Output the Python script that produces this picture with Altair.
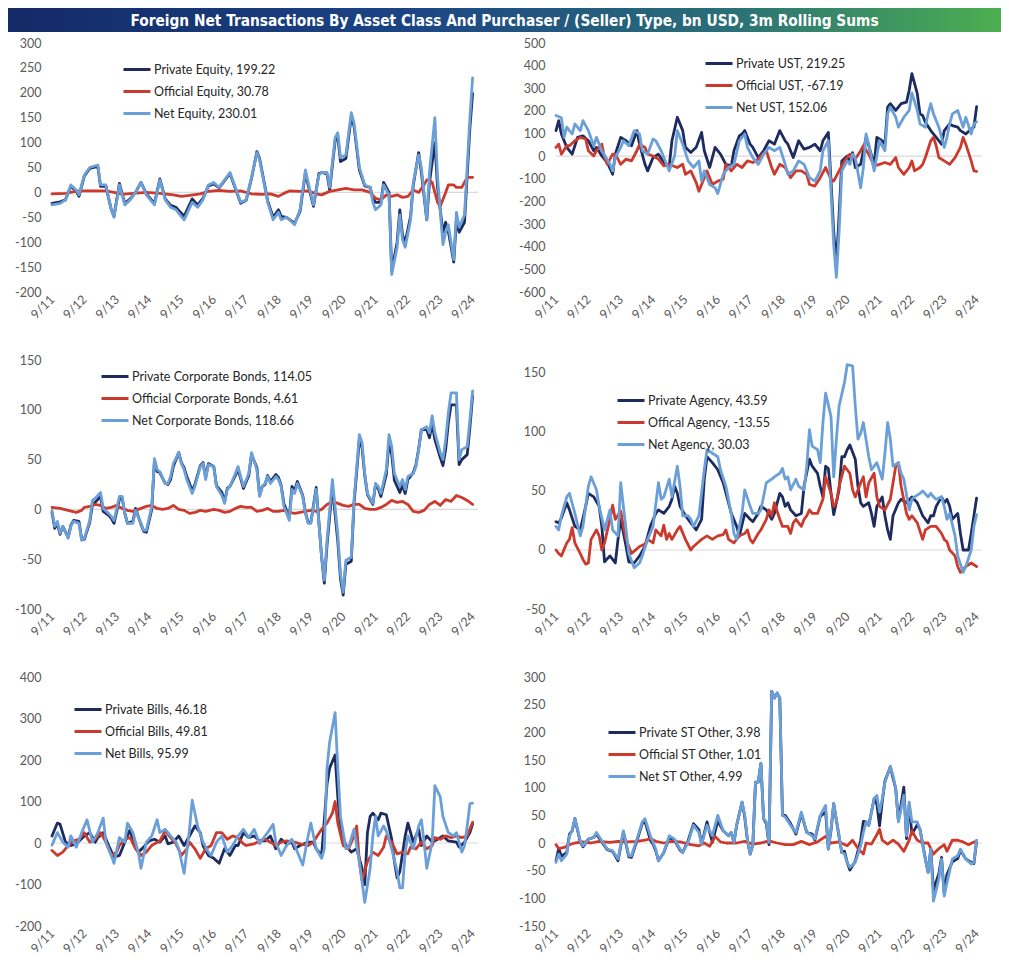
import altair as alt
import pandas as pd

TITLE = "Foreign Net Transactions By Asset Class And Purchaser / (Seller) Type, bn USD, 3m Rolling Sums"
TICK_LABELS = ["9/11", "9/12", "9/13", "9/14", "9/15", "9/16", "9/17",
               "9/18", "9/19", "9/20", "9/21", "9/22", "9/23", "9/24"]

# ---------------- Equity (month index from 9/11, value bn USD) ----------------
EQ_NAMES = ["Private Equity, 199.22", "Official Equity, 30.78", "Net Equity, 230.01"]
EQ_PRIVATE = [(0,-22),(3,-19),(5,-15),(7,13),(9,2),(10,-8),(12,33),(14,48),(17,52),(18,12),(20,12),(22,-35),(23,-48),(25,18),(27,-22),(29,-13),(31,0),(33,20),(35,-3),(38,-22),(40,27),(42,-13),(44,-26),(46,-30),(49,-48),(52,-13),(54,-25),(56,-12),(58,13),(60,17),(62,9),(66,38),(68,8),(70,-22),(72,-16),(74,28),(76,82),(77,68),(80,-17),(82,-50),(84,-35),(85,-48),(87,-50),(90,-62),(92,-38),(94,40),(95,15),(97,-28),(99,38),(100,40),(102,37),(103,5),(105,103),(106,112),(107,62),(109,68),(111,152),(112,133),(114,45),(116,13),(118,10),(119,-12),(120,-20),(122,-20),(123,20),(125,0),(126,-158),(128,-100),(129,-35),(130,-85),(131,-100),(133,-48),(134,15),(136,80),(137,40),(139,-55),(140,20),(142,100),(143,10),(145,-80),(146,-60),(147,-78),(149,-140),(150,-55),(151,-80),(153,-60),(155,130),(156,199)]
EQ_OFFICIAL = [(0,-3),(5,-2),(10,3),(15,3),(20,3),(23,0),(26,-4),(30,-2),(35,0),(40,-2),(45,-5),(48,-8),(51,-6),(55,-3),(58,2),(62,4),(66,2),(70,3),(74,-3),(78,-4),(81,-3),(84,-8),(86,-2),(88,3),(92,2),(95,3),(98,-3),(100,-5),(103,2),(106,5),(109,8),(112,5),(115,5),(118,0),(120,-12),(122,-15),(124,-5),(126,-8),(128,-5),(130,-10),(132,-8),(134,5),(136,0),(138,15),(139,25),(140,25),(141,20),(143,-20),(144,-28),(146,0),(147,15),(149,15),(150,10),(152,10),(153,20),(154,30),(156,30)]
EQ_NET = [(0,-25),(3,-22),(5,-15),(7,15),(9,5),(10,-5),(12,35),(14,50),(17,55),(18,15),(20,15),(22,-35),(23,-50),(25,15),(27,-25),(29,-15),(31,0),(33,20),(35,-5),(38,-25),(40,25),(42,-15),(44,-30),(46,-35),(49,-55),(52,-20),(54,-30),(56,-15),(58,15),(60,20),(62,10),(66,40),(68,10),(70,-20),(72,-15),(74,30),(76,80),(77,65),(80,-20),(82,-55),(84,-40),(85,-55),(87,-50),(90,-65),(92,-35),(94,45),(95,20),(97,-25),(99,35),(100,40),(102,40),(103,10),(105,110),(106,120),(107,70),(109,75),(111,160),(112,140),(114,50),(116,15),(118,10),(119,-20),(120,-35),(122,-25),(123,15),(125,-5),(126,-165),(128,-110),(129,-45),(130,-95),(131,-110),(133,-55),(134,20),(136,75),(137,50),(139,-55),(140,40),(142,150),(143,30),(145,-105),(146,-80),(147,-65),(149,-135),(150,-40),(151,-70),(153,-45),(155,150),(156,230)]

# ---------------- UST ----------------
UST_NAMES = ["Private UST, 219.25", "Official UST, -67.19", "Net UST, 152.06"]
UST_PRIVATE = [(0,113),(1,157),(2,98),(4,39),(6,9),(8,83),(10,90),(12,68),(14,24),(15,39),(17,1),(19,-28),(21,-80),(22,9),(24,83),(26,68),(28,46),(30,113),(31,53),(33,-36),(34,-65),(36,-6),(38,9),(40,-28),(42,-43),(43,68),(45,172),(47,113),(48,39),(50,16),(52,39),(54,105),(55,24),(57,-50),(59,39),(61,9),(63,-36),(65,-43),(66,24),(68,90),(69,98),(70,113),(72,53),(73,39),(75,-6),(77,24),(79,68),(81,53),(83,113),(85,68),(86,53),(88,-6),(90,68),(92,31),(94,39),(96,53),(98,24),(99,68),(101,105),(102,-110),(103,-333),(104,-481),(105,-259),(106,-21),(108,1),(109,-28),(110,16),(111,-50),(113,-36),(114,24),(115,83),(116,46),(118,-36),(119,83),(121,68),(122,53),(123,217),(124,232),(126,202),(127,217),(128,232),(130,239),(131,291),(132,365),(134,276),(135,187),(136,180),(137,150),(139,113),(141,83),(143,53),(144,113),(146,143),(147,135),(149,128),(150,113),(152,98),(154,120),(155,128),(156,219)]
UST_OFFICIAL = [(0,39),(1,53),(2,9),(4,46),(5,46),(7,68),(9,83),(11,76),(12,24),(14,1),(15,24),(17,53),(18,-6),(19,-36),(21,9),(22,9),(24,-36),(26,-13),(28,-21),(30,24),(31,53),(33,39),(34,9),(36,1),(38,-13),(40,-43),(42,-36),(45,-50),(47,-36),(48,-80),(50,-65),(52,-117),(53,-155),(55,-95),(56,-65),(58,-125),(60,-110),(62,-102),(63,-36),(65,-65),(67,-36),(69,-50),(71,-21),(73,-28),(75,-13),(76,1),(78,24),(80,-50),(81,-80),(83,-36),(85,-50),(87,-95),(89,-65),(91,-65),(93,-80),(94,-125),(96,-132),(98,-95),(100,-50),(102,-102),(103,-110),(105,-65),(107,-21),(109,9),(111,-13),(113,24),(114,46),(116,9),(118,-43),(120,-36),(122,-28),(124,-36),(126,-6),(127,-50),(129,-80),(131,-50),(132,-21),(133,-65),(135,-50),(136,-36),(137,-6),(139,68),(140,83),(141,46),(142,-6),(144,-21),(146,-36),(148,-6),(150,39),(151,83),(152,53),(154,-21),(155,-65),(156,-67)]
UST_NET = [(0,180),(2,170),(3,83),(4,128),(6,98),(7,143),(9,113),(10,157),(12,113),(14,46),(15,83),(17,24),(20,-36),(21,-65),(22,-6),(24,39),(25,68),(27,46),(29,113),(31,98),(32,24),(34,9),(36,76),(37,68),(39,24),(41,-36),(42,-65),(44,1),(45,113),(47,53),(49,-21),(51,-50),(53,-21),(54,-110),(55,-65),(57,-125),(59,-140),(60,-165),(62,-80),(64,-50),(66,-36),(68,68),(70,98),(71,39),(73,-6),(75,-36),(77,9),(79,39),(81,24),(83,39),(85,-36),(86,-80),(88,-65),(90,-21),(92,-36),(94,-95),(96,-110),(98,-65),(99,24),(101,68),(102,-155),(103,-392),(104,-535),(105,-333),(106,-65),(108,-21),(109,-36),(110,9),(111,-6),(113,-140),(114,-50),(115,98),(116,53),(118,-65),(120,68),(122,24),(123,187),(124,217),(126,172),(127,128),(129,172),(131,202),(132,280),(134,202),(135,143),(137,128),(138,187),(139,232),(140,187),(142,128),(144,39),(145,83),(146,143),(147,187),(149,202),(151,128),(152,172),(154,98),(155,143),(156,152)]

# ---------------- Corporate bonds ----------------
CB_NAMES = ["Private Corporate Bonds, 114.05", "Official Corporate Bonds, 4.61", "Net Corporate Bonds, 118.66"]
CB_PRIVATE = [(0,-3),(1,-19),(2,-14),(3,-25),(4,-17),(6,-28),(7,-16),(8,-11),(10,-12),(11,-30),(12,-30),(14,-13),(15,5),(16,7),(18,13),(19,-2),(21,-6),(22,-9),(23,-14),(25,10),(26,12),(27,-4),(28,-14),(30,-12),(31,1),(33,-15),(34,-22),(35,-23),(37,0),(38,49),(39,38),(40,37),(42,26),(43,25),(44,30),(45,43),(47,57),(48,47),(49,42),(50,33),(52,19),(53,25),(55,44),(56,47),(57,32),(58,46),(60,43),(61,24),(63,17),(64,8),(65,21),(66,23),(68,34),(69,40),(70,31),(71,21),(73,34),(74,55),(76,42),(77,14),(78,23),(79,25),(80,34),(81,28),(83,35),(84,32),(85,24),(86,6),(88,-8),(89,23),(90,19),(91,28),(93,14),(94,-3),(95,-13),(96,-13),(98,22),(99,-13),(100,-48),(101,-74),(102,-36),(104,22),(106,-32),(107,-70),(108,-86),(109,-55),(111,-52),(112,5),(114,70),(115,62),(116,34),(117,15),(119,5),(120,25),(121,21),(122,13),(124,35),(125,68),(126,55),(127,29),(129,17),(130,24),(131,16),(132,30),(134,37),(135,45),(136,61),(137,80),(139,80),(140,72),(141,86),(142,70),(144,52),(145,44),(146,60),(147,87),(148,105),(150,105),(151,45),(152,50),(154,55),(155,82),(156,114)]
CB_OFFICIAL = [(0,2),(3,1),(6,-1),(9,-3),(11,-1),(12,2),(14,3),(16,5),(18,4),(20,1),(22,2),(24,4),(26,1),(28,-1),(30,-2),(33,1),(35,3),(37,4),(39,1),(41,0),(43,1),(45,4),(47,0),(49,-1),(51,-4),(53,-3),(55,-1),(57,-2),(60,0),(62,-1),(64,-3),(66,-2),(68,1),(70,3),(72,2),(74,2),(76,-2),(78,-1),(80,1),(82,-2),(84,-2),(86,-1),(88,-3),(90,-4),(92,-3),(94,-2),(96,-1),(98,-2),(100,0),(102,5),(104,8),(106,6),(108,4),(110,3),(112,5),(114,5),(116,1),(118,0),(120,0),(122,2),(124,5),(126,9),(128,7),(130,8),(132,5),(134,-2),(136,-3),(138,-1),(140,5),(142,8),(144,4),(146,10),(148,8),(150,14),(152,12),(154,9),(156,5)]
CB_NET = [(0,-1),(1,-17),(2,-12),(3,-24),(4,-17),(6,-29),(7,-17),(8,-12),(10,-14),(11,-31),(12,-29),(14,-11),(15,9),(16,11),(18,17),(19,1),(21,-4),(22,-7),(23,-11),(25,13),(26,13),(27,-4),(28,-14),(30,-14),(31,-1),(33,-14),(34,-21),(35,-21),(37,3),(38,51),(39,40),(40,38),(42,26),(43,26),(44,33),(45,46),(47,57),(48,46),(49,40),(50,30),(52,16),(53,23),(55,43),(56,46),(57,30),(58,45),(60,43),(61,23),(63,14),(64,6),(65,20),(66,23),(68,36),(69,43),(70,33),(71,23),(73,36),(74,57),(76,40),(77,13),(78,23),(79,26),(80,33),(81,26),(83,33),(84,30),(85,23),(86,3),(88,-11),(89,20),(90,16),(91,26),(93,13),(94,-4),(95,-14),(96,-14),(98,20),(99,-14),(100,-48),(101,-71),(102,-31),(104,30),(106,-25),(107,-65),(108,-83),(109,-51),(111,-48),(112,9),(114,75),(115,67),(116,36),(117,16),(119,6),(120,26),(121,23),(122,16),(124,40),(125,75),(126,63),(127,36),(129,23),(130,30),(131,20),(132,33),(134,36),(135,43),(136,60),(137,80),(139,83),(140,77),(141,94),(142,77),(144,57),(145,50),(146,70),(147,97),(148,117),(150,117),(151,50),(152,60),(154,63),(155,90),(156,119)]

# ---------------- Agency ----------------
AG_NAMES = ["Private Agency, 43.59", "Offical Agency, -13.55", "Net Agency, 30.03"]
AG_PRIVATE = [(0,24),(1,23),(2,27),(4,40),(5,34),(7,20),(9,17),(11,37),(12,48),(14,45),(16,37),(17,20),(18,-10),(20,-5),(21,-8),(22,-11),(23,9),(24,26),(26,3),(27,-10),(29,-11),(31,-5),(33,3),(35,20),(37,31),(38,34),(40,31),(42,37),(43,43),(44,54),(45,48),(46,37),(48,29),(50,23),(52,17),(54,26),(55,60),(56,79),(58,74),(60,68),(62,57),(64,40),(65,31),(67,20),(68,12),(70,31),(72,26),(73,24),(75,31),(76,37),(78,34),(80,26),(81,31),(83,48),(84,45),(85,37),(86,40),(87,34),(89,29),(91,31),(92,54),(94,77),(95,71),(97,65),(98,54),(99,45),(100,71),(101,69),(102,48),(103,30),(105,51),(106,79),(107,79),(108,85),(109,89),(111,77),(112,54),(113,40),(114,37),(116,40),(117,31),(118,20),(119,37),(121,45),(122,29),(123,17),(124,9),(125,29),(127,40),(128,43),(130,40),(132,45),(134,40),(136,29),(138,23),(139,29),(140,29),(141,37),(143,45),(144,40),(145,43),(146,37),(147,26),(149,31),(150,14),(151,0),(153,0),(154,14),(156,44)]
AG_OFFICIAL = [(0,0),(1,-3),(2,-5),(4,6),(5,9),(6,19),(7,6),(9,-3),(10,-8),(11,-12),(12,-11),(13,9),(15,17),(16,12),(17,0),(18,6),(20,26),(21,38),(22,26),(24,33),(25,20),(26,9),(28,-3),(29,-1),(31,3),(33,5),(34,9),(36,6),(37,17),(39,12),(40,21),(41,9),(42,14),(43,9),(45,17),(46,20),(48,9),(50,0),(51,3),(53,7),(54,9),(56,12),(58,9),(60,12),(62,13),(63,17),(64,9),(66,6),(68,12),(70,14),(71,17),(72,9),(73,6),(75,14),(76,17),(78,26),(79,34),(80,29),(81,40),(83,26),(84,20),(86,20),(87,14),(88,23),(89,26),(91,20),(92,26),(93,29),(94,34),(95,31),(97,31),(98,37),(99,43),(100,62),(102,48),(103,37),(104,40),(105,54),(107,71),(108,68),(109,65),(110,51),(111,45),(113,57),(114,62),(115,45),(116,57),(118,65),(119,45),(120,37),(122,34),(124,43),(125,57),(126,71),(127,74),(128,54),(130,31),(131,26),(132,29),(134,23),(136,9),(137,17),(139,20),(141,20),(143,14),(144,9),(145,7),(146,0),(148,-5),(149,-14),(150,-19),(152,-14),(154,-11),(156,-14)]
AG_NET = [(0,20),(1,17),(2,29),(4,45),(5,48),(7,31),(9,12),(10,20),(12,54),(13,62),(15,51),(16,37),(18,17),(20,34),(21,17),(23,12),(24,57),(25,37),(27,-3),(29,-15),(31,-11),(32,-5),(34,9),(36,20),(38,57),(39,43),(40,45),(42,60),(43,45),(45,71),(46,54),(47,29),(49,29),(50,26),(51,20),(53,29),(55,68),(56,85),(58,82),(60,79),(61,68),(63,54),(65,31),(66,14),(67,9),(69,31),(70,51),(72,37),(73,31),(75,31),(76,34),(78,57),(80,60),(81,62),(83,65),(84,69),(85,60),(86,62),(87,51),(89,60),(90,54),(92,51),(93,71),(94,102),(95,88),(97,85),(98,74),(99,108),(100,133),(102,113),(103,62),(104,94),(105,122),(107,142),(108,157),(110,156),(111,122),(112,94),(113,99),(114,108),(116,79),(117,68),(118,71),(119,74),(121,60),(122,82),(123,108),(124,94),(125,71),(127,74),(128,65),(129,60),(131,34),(132,43),(133,45),(135,48),(136,50),(138,45),(139,48),(140,45),(141,43),(143,45),(144,37),(145,26),(146,31),(148,12),(149,-5),(151,-19),(152,-14),(154,0),(155,20),(156,30)]

# ---------------- Bills ----------------
BL_NAMES = ["Private Bills, 46.18", "Official Bills, 49.81", "Net Bills, 95.99"]
BL_PRIVATE = [(0,17),(2,48),(3,45),(5,2),(7,-6),(9,-2),(12,17),(14,25),(16,2),(17,13),(19,25),(21,-6),(23,-34),(25,-30),(27,2),(29,33),(30,2),(32,-22),(34,-10),(36,5),(38,9),(40,2),(42,17),(43,-2),(45,2),(47,17),(49,-6),(51,17),(53,41),(55,25),(56,-6),(58,-30),(60,-37),(62,-49),(64,-14),(66,-30),(68,-6),(69,-6),(71,25),(73,13),(75,17),(77,5),(79,5),(81,17),(83,-14),(85,9),(87,-2),(89,2),(90,-14),(92,-6),(95,2),(97,2),(98,-14),(100,-30),(102,142),(103,181),(105,212),(106,111),(107,33),(109,-6),(111,-22),(113,-14),(115,-61),(116,-100),(117,25),(118,64),(119,72),(121,56),(122,72),(124,68),(126,9),(127,-45),(128,-84),(129,-69),(131,17),(132,48),(134,2),(136,33),(137,-6),(139,17),(141,2),(143,9),(145,17),(147,5),(150,2),(151,-10),(153,2),(155,25),(156,46)]
BL_OFFICIAL = [(0,-18),(2,-30),(4,-22),(6,-6),(8,5),(10,9),(12,25),(14,2),(16,9),(18,25),(20,2),(22,-30),(24,-22),(25,-6),(27,9),(29,13),(31,-14),(33,-30),(35,-22),(37,-6),(38,-2),(40,5),(42,29),(44,13),(46,-2),(48,-30),(50,-14),(51,2),(53,-14),(55,-37),(57,-14),(59,-6),(61,25),(63,25),(65,9),(67,17),(69,13),(71,-2),(72,-6),(75,-2),(77,5),(79,9),(81,2),(83,-6),(85,2),(87,5),(90,2),(92,-2),(95,-6),(97,2),(98,13),(100,33),(102,48),(104,72),(105,100),(106,48),(108,-6),(110,-14),(112,17),(113,41),(114,-45),(115,-90),(117,-45),(119,-22),(121,-30),(123,-10),(124,17),(126,2),(128,-26),(130,-22),(132,-26),(133,-10),(135,-14),(137,2),(139,-14),(141,-6),(142,13),(144,9),(146,17),(148,13),(150,17),(152,13),(154,17),(156,50)]
BL_NET = [(0,-5),(2,25),(4,2),(6,-10),(7,17),(9,-10),(11,25),(13,56),(15,2),(17,25),(19,60),(20,2),(22,-30),(23,-49),(25,13),(27,2),(28,48),(30,25),(32,-22),(33,-61),(35,2),(37,17),(39,56),(40,25),(42,33),(44,17),(46,2),(47,-14),(49,-73),(51,33),(52,103),(54,41),(56,2),(58,-22),(59,-30),(61,2),(63,17),(65,-22),(67,-6),(69,17),(71,33),(73,13),(75,33),(77,-2),(79,17),(80,25),(82,45),(83,2),(85,-30),(87,-6),(89,9),(90,-6),(93,-53),(95,17),(96,48),(98,-14),(100,-37),(101,-14),(102,181),(103,244),(105,314),(106,181),(107,64),(109,-14),(110,-10),(112,33),(114,-45),(116,-143),(118,-61),(119,17),(120,64),(121,17),(123,41),(124,29),(126,-14),(128,-69),(129,-108),(130,-108),(131,-22),(132,17),(134,-14),(136,41),(137,56),(138,2),(139,-61),(141,2),(142,138),(144,111),(145,64),(147,25),(149,17),(150,25),(152,-22),(153,-6),(154,41),(155,95),(156,96)]

# ---------------- ST Other ----------------
ST_NAMES = ["Private ST Other, 3.98", "Official ST Other, 1.01", "Net ST Other, 4.99"]
ST_PRIVATE = [(0,-32),(1,-10),(2,-24),(4,-17),(5,16),(6,22),(7,44),(9,2),(10,-7),(12,7),(14,10),(15,16),(17,2),(19,-12),(21,-15),(23,-32),(25,20),(27,-25),(28,-26),(30,4),(32,35),(33,39),(35,5),(36,-2),(37,-14),(38,-32),(40,-17),(42,10),(44,5),(46,-13),(47,-17),(49,4),(51,35),(53,24),(54,-2),(56,38),(58,1),(60,40),(62,22),(64,13),(65,19),(66,1),(67,32),(69,74),(70,47),(71,5),(72,-20),(73,-3),(74,110),(75,110),(76,144),(77,44),(78,35),(79,-3),(80,274),(81,262),(82,271),(83,262),(84,50),(85,50),(87,35),(89,16),(91,53),(93,19),(95,16),(96,5),(98,48),(100,56),(101,-11),(102,23),(103,71),(105,11),(106,-17),(107,-15),(108,-35),(109,-49),(111,-33),(113,5),(114,39),(115,38),(116,32),(118,80),(119,71),(120,31),(121,75),(122,112),(124,138),(125,117),(126,98),(127,40),(129,101),(130,8),(131,69),(132,16),(134,33),(135,25),(137,-29),(138,-53),(139,-11),(140,-85),(142,-55),(143,-26),(144,-93),(145,-57),(147,-34),(149,-28),(150,-13),(152,-29),(154,-35),(155,-37),(156,4)]
ST_OFFICIAL = [(0,-3),(1,-10),(3,-8),(5,-3),(7,0),(10,2),(13,0),(16,3),(18,2),(20,1),(23,3),(26,2),(30,3),(33,5),(35,8),(37,3),(40,0),(43,3),(46,2),(50,-3),(53,-5),(55,0),(57,-6),(59,12),(61,2),(63,0),(67,0),(70,3),(73,-2),(76,0),(79,4),(82,0),(85,-3),(88,-3),(91,3),(94,-3),(97,2),(100,12),(102,0),(105,2),(108,-5),(110,5),(112,-10),(114,-20),(115,0),(117,-2),(119,15),(120,25),(121,5),(123,-2),(125,5),(127,-2),(129,-15),(131,5),(132,22),(134,5),(136,0),(138,0),(140,-20),(142,-10),(144,-3),(145,-15),(147,5),(149,5),(151,2),(153,-3),(155,2),(156,1)]
ST_NET = [(0,-35),(1,-20),(2,-32),(4,-20),(5,13),(6,22),(7,44),(9,4),(10,-5),(12,7),(14,10),(15,19),(17,4),(19,-11),(21,-14),(23,-29),(25,22),(27,-23),(28,-23),(30,7),(32,38),(33,44),(35,13),(36,1),(37,-11),(38,-32),(40,-17),(42,13),(44,7),(46,-11),(47,-17),(49,1),(51,32),(53,19),(54,-2),(56,32),(58,13),(60,50),(62,22),(64,13),(65,19),(66,1),(67,32),(69,74),(70,50),(71,7),(72,-20),(73,-5),(74,110),(75,110),(76,144),(77,44),(78,38),(79,1),(80,274),(81,262),(82,271),(83,262),(84,50),(85,47),(87,32),(89,19),(91,56),(93,19),(95,13),(96,7),(98,50),(100,68),(101,-11),(102,25),(103,71),(105,13),(106,-17),(107,-20),(108,-35),(109,-44),(111,-35),(113,-5),(114,19),(115,38),(116,32),(118,80),(119,86),(120,56),(121,80),(122,110),(124,138),(125,122),(126,98),(127,38),(129,86),(130,13),(131,74),(132,38),(134,38),(135,25),(137,-29),(138,-53),(139,-11),(140,-105),(142,-65),(143,-29),(144,-96),(145,-72),(147,-29),(149,-23),(150,-11),(152,-29),(154,-38),(155,-35),(156,5)]

# ---------------- styling ----------------
NAVY = "#1d2b5e"
RED = "#cc3a2e"
LIGHT = "#6b9fd8"
FONT = "Lato"
PW, PH = 426, 249          # plot area of each panel
ROW_GAP, COL_GAP = 68, 78  # flush-grid spacing between plot areas
BAN_X, BAN_Y, BAN_W, BAN_H = -44, -35, 993, 24  # banner box relative to first panel

tick_months = [12 * i for i in range(len(TICK_LABELS))]
label_expr = "[" + ",".join("'%s'" % t for t in TICK_LABELS) + "][round(datum.value/12)]"


def panel(names, series, ydom, ystep, lx, ly, row_gap, extra=None):
    lo = int(-(-ydom[0] // ystep) * ystep)
    yticks = list(range(lo, int(ydom[1]) + 1, ystep))
    xenc = alt.X("m:Q", title=None,
                 scale=alt.Scale(domain=[0, 158], nice=False, zero=False),
                 axis=alt.Axis(values=tick_months, labelExpr=label_expr, labelAngle=-45,
                               labelAlign="right", labelBaseline="middle", labelPadding=5,
                               domain=False, ticks=False, grid=False, labelFont=FONT,
                               labelFontSize=12.5, labelColor="#595959"))
    yenc = alt.Y("v:Q", title=None,
                 scale=alt.Scale(domain=ydom, nice=False, zero=False),
                 axis=alt.Axis(values=yticks, labelExpr="'' + datum.value",
                               domain=False, ticks=False, grid=False, labelFont=FONT,
                               labelFontSize=12.5, labelColor="#595959", labelPadding=11))
    color = alt.Color("s:N", scale=alt.Scale(domain=names, range=[NAVY, RED, LIGHT]),
                      legend=alt.Legend(title=None, orient="none", legendX=lx, legendY=ly,
                                        symbolType="stroke", symbolSize=729,
                                        symbolStrokeWidth=3, labelFont=FONT,
                                        labelFontSize=12.5, labelColor="#262626",
                                        labelOffset=2, padding=0,
                                        rowPadding=row_gap - 27, labelLimit=400))
    zero = alt.Chart(pd.DataFrame({"v": [0]})).mark_rule(color="#d9d9d9", strokeWidth=1.2).encode(y=yenc)
    layers = list(extra or []) + [zero]
    for name, pts in zip(names, series):
        df = pd.DataFrame({"m": [p[0] for p in pts], "v": [p[1] for p in pts], "s": name})
        layers.append(alt.Chart(df).mark_line(strokeWidth=2.8, strokeJoin="round", strokeCap="round")
                      .encode(x=xenc, y=yenc, color=color))
    return alt.layer(*layers).properties(width=PW, height=PH)


banner_df = pd.DataFrame({"t": [TITLE]})
grad = {"gradient": "linear", "x1": 0, "x2": 1, "y1": 0, "y2": 0,
        "stops": [{"offset": 0, "color": "#132a66"},
                  {"offset": 0.4, "color": "#1b4485"},
                  {"offset": 0.72, "color": "#2a6e78"},
                  {"offset": 1, "color": "#4caf50"}]}
banner_rect = alt.Chart(banner_df).mark_rect(fill=grad, strokeWidth=0, clip=False).encode(
    x=alt.value(BAN_X), x2=alt.value(BAN_X + BAN_W), y=alt.value(BAN_Y), y2=alt.value(BAN_Y + BAN_H))
banner_text = alt.Chart(banner_df).mark_text(
    color="white", font="Liberation Sans Narrow, DejaVu Sans Condensed, sans-serif",
    fontWeight="bold", fontSize=15.3, align="center", baseline="middle", clip=False).encode(
    text="t:N", x=alt.value(BAN_X + BAN_W / 2), y=alt.value(BAN_Y + BAN_H / 2 + 1))

p1 = panel(EQ_NAMES, [EQ_PRIVATE, EQ_OFFICIAL, EQ_NET], [-200, 300], 50, 70, 11.5, 21,
           extra=[banner_rect, banner_text])
p2 = panel(UST_NAMES, [UST_PRIVATE, UST_OFFICIAL, UST_NET], [-600, 500], 100, 148, 5.5, 22)
p3 = panel(CB_NAMES, [CB_PRIVATE, CB_OFFICIAL, CB_NET], [-100, 150], 50, 48, 1.5, 23.5)
p4 = panel(AG_NAMES, [AG_PRIVATE, AG_OFFICIAL, AG_NET], [-50, 161], 50, 60, 25.5, 20)
p5 = panel(BL_NAMES, [BL_PRIVATE, BL_OFFICIAL, BL_NET], [-200, 400], 100, 21, 17.5, 15)
p6 = panel(ST_NAMES, [ST_PRIVATE, ST_OFFICIAL, ST_NET], [-150, 300], 50, 51, 40.5, 20)

chart = alt.concat(p1, p2, p3, p4, p5, p6, columns=2, bounds="flush",
                   spacing={"row": ROW_GAP, "column": COL_GAP}).resolve_scale(
    x="independent", y="independent", color="independent").resolve_legend(
    color="independent").properties(padding=0, background="white").configure_view(stroke=None)

chart.save("out.html", embed_options={"renderer": "svg", "actions": False})
